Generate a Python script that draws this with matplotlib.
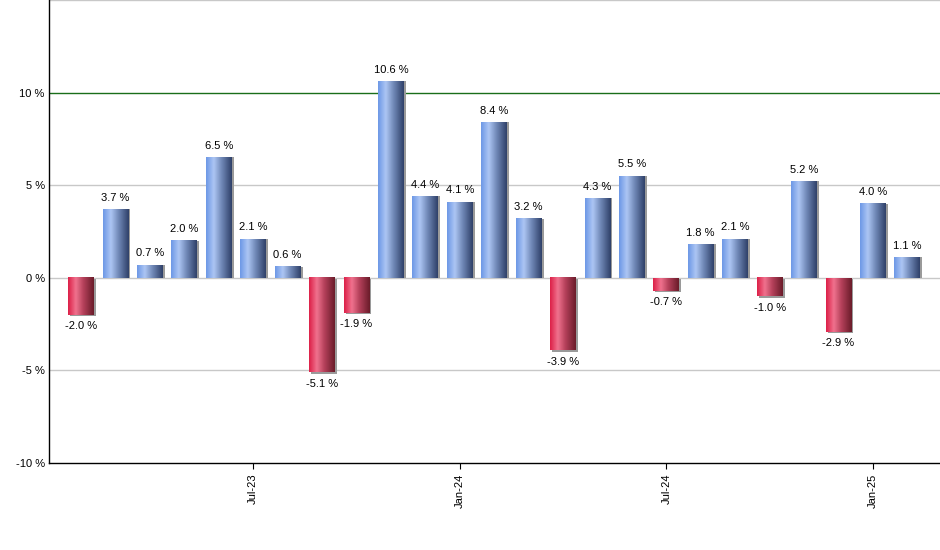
import numpy as np
import matplotlib
matplotlib.use("Agg")
import matplotlib.pyplot as plt
from matplotlib.colors import LinearSegmentedColormap

# monthly returns, Feb-23 .. Feb-25
months = ["Feb-23", "Mar-23", "Apr-23", "May-23", "Jun-23", "Jul-23", "Aug-23",
          "Sep-23", "Oct-23", "Nov-23", "Dec-23", "Jan-24", "Feb-24", "Mar-24",
          "Apr-24", "May-24", "Jun-24", "Jul-24", "Aug-24", "Sep-24", "Oct-24",
          "Nov-24", "Dec-24", "Jan-25", "Feb-25"]
returns = [-2.0, 3.7, 0.7, 2.0, 6.5, 2.1, 0.6, -5.1, -1.9, 10.6, 4.4, 4.1, 8.4,
           3.2, -3.9, 4.3, 5.5, -0.7, 1.8, 2.1, -1.0, 5.2, -2.9, 4.0, 1.1]
tick_months = ["Jul-23", "Jan-24", "Jul-24", "Jan-25"]
yticks = [-10, -5, 0, 5, 10]

plt.rcParams['font.family'] = ['Liberation Sans', 'DejaVu Sans']

blue_cm = LinearSegmentedColormap.from_list(
    "b", [(0, "#6d98e6"), (0.3, "#adc6f4"), (0.6, "#7189b8"), (1, "#2f4169")])
red_cm = LinearSegmentedColormap.from_list(
    "r", [(0, "#dc2048"), (0.3, "#f0728e"), (0.6, "#b4405a"), (1, "#6a1c2a")])
grad = np.linspace(0, 1, 64).reshape(1, -1)

fig = plt.figure(figsize=(9.4, 5.5), dpi=100)
ax = fig.add_axes([49 / 940, 87 / 550, 891 / 940, 463 / 550])

x = np.arange(len(returns))
bars = ax.bar(x, returns, width=0.75, color="none", zorder=3)

for b, v in zip(bars, returns):
    x0, w = b.get_x(), b.get_width()
    y0, y1 = min(0, v), max(0, v)
    # thin grey shadow
    ax.bar(x0 + w / 2 + 0.06, y1 - y0, bottom=y0 - 0.08 if v < 0 else y0,
           width=w, color="#9a9a9a", zorder=2.5)
    ax.imshow(grad, cmap=blue_cm if v >= 0 else red_cm, aspect="auto",
              extent=(x0, x0 + w, y0, y1), zorder=3, interpolation="bicubic")
    if v >= 0:
        ax.text(x0 + w / 2, y1 + 0.35, f"{v:.1f} %", ha="center", va="bottom",
                fontsize=8)
    else:
        ax.text(x0 + w / 2, y0 - 0.35, f"{v:.1f} %", ha="center", va="top",
                fontsize=8)

ax.set_xlim(-0.93, len(returns) - 0.05)
ax.set_ylim(-10, 15)
ax.set_yticks(yticks)
ax.set_yticklabels([f"{t} %" for t in yticks], fontsize=8)
for t in [-5, 0, 5, 15]:
    ax.axhline(t, color="#c8c8c8", lw=1, zorder=1)
ax.axhline(10, color="#1a6e1a", lw=1, zorder=1)

ax.set_xticks([months.index(m) for m in tick_months])
ax.set_xticklabels(tick_months, rotation=90, fontsize=8)
ax.tick_params(axis="x", length=4, direction="out")
ax.tick_params(axis="y", length=0, pad=3)

for s in ["top", "right"]:
    ax.spines[s].set_visible(False)
ax.spines["left"].set_linewidth(1)
ax.spines["bottom"].set_linewidth(1)

fig.savefig("out.png", dpi=100)
